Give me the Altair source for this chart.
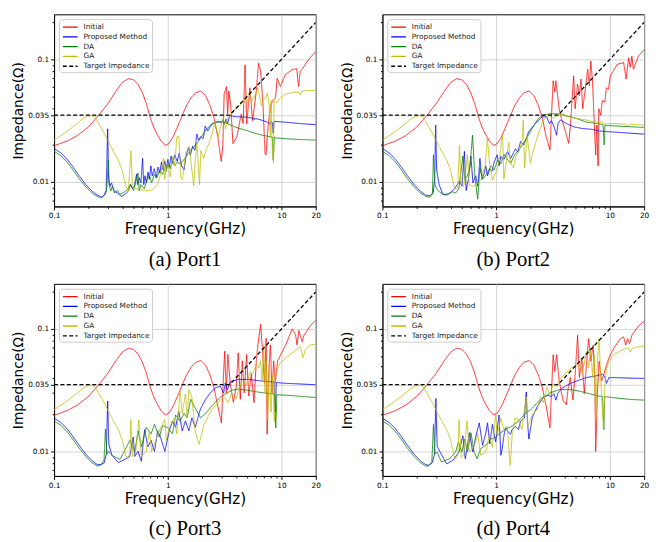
import altair as alt
import pandas as pd

SERIES = ["Initial", "Proposed Method", "DA", "GA", "Target Impedance"]
COLORS = ["#ff0000", "#0000ff", "#008000", "#bfbf00", "#000000"]
DASHES = [[1, 0], [1, 0], [1, 0], [1, 0], [4, 2.5]]

X_MAJOR = [0.1, 1, 10, 20]
X_TICKS = [0.1, 0.2, 0.3, 0.4, 0.5, 0.6, 0.7, 0.8, 0.9, 1, 2, 3, 4, 5, 6, 7, 8, 9, 10, 20]
Y_MAJOR = [0.01, 0.035, 0.1]
Y_TICKS = [0.007, 0.008, 0.009, 0.01, 0.02, 0.03, 0.035, 0.04, 0.05, 0.06, 0.07, 0.08, 0.09, 0.1, 0.2]
CAPTIONS = ["(a) Port1", "(b) Port2", "(c) Port3", "(d) Port4"]

# Target impedance spec: flat, then rising with frequency
TARGET = [(0.1, 0.035), (3.5, 0.035), (20, 0.2)]

# Smooth low-frequency parts (identical in all four ports)
INITIAL_LOW = [(0.1, 0.0197), (0.13, 0.0215), (0.16, 0.0238), (0.2, 0.028), (0.25, 0.0355), (0.3, 0.044),
               (0.35, 0.055), (0.4, 0.065), (0.45, 0.0695), (0.5, 0.068), (0.55, 0.062), (0.6, 0.053),
               (0.65, 0.043), (0.7, 0.0336), (0.75, 0.028), (0.8, 0.0247), (0.87, 0.0216), (0.95, 0.0198),
               (1.02, 0.0205), (1.1, 0.0228), (1.2, 0.0273), (1.3, 0.0326), (1.45, 0.0415), (1.6, 0.0485),
               (1.75, 0.0532), (1.95, 0.0552), (2.15, 0.0505), (2.35, 0.042), (2.55, 0.033), (2.75, 0.0235)]
PROPOSED_LOW = [(0.1, 0.0187), (0.115, 0.0172), (0.13, 0.0153), (0.145, 0.0134), (0.165, 0.0113),
                (0.19, 0.0095), (0.215, 0.0084), (0.24, 0.0078)]
DA_LOW = [(0.1, 0.0178), (0.115, 0.0163), (0.13, 0.0145), (0.145, 0.0127), (0.165, 0.0107),
          (0.19, 0.0091), (0.215, 0.0081), (0.24, 0.0076)]
GA_LOW = [(0.1, 0.0219), (0.12, 0.0245), (0.14, 0.0272), (0.16, 0.030), (0.18, 0.0328), (0.2, 0.0345),
          (0.215, 0.0347), (0.23, 0.0335), (0.25, 0.0292), (0.275, 0.025), (0.3, 0.0213), (0.33, 0.018),
          (0.37, 0.0148), (0.4, 0.0122), (0.425, 0.0093)]

# ---------------- Port 1 ----------------
P1_INITIAL = [(2.95, 0.0147), (3.05, 0.02), (3.13, 0.052), (3.28, 0.060), (3.36, 0.036), (3.44, 0.055),
              (3.57, 0.043), (3.74, 0.0205), (4.05, 0.0232), (4.42, 0.0358), (4.6, 0.03), (4.78, 0.090),
              (4.94, 0.0297), (5.27, 0.0585), (5.57, 0.0316), (6.0, 0.055), (6.28, 0.093), (6.55, 0.080),
              (6.88, 0.0417), (7.16, 0.0171), (7.3, 0.0166), (7.65, 0.0297), (8.0, 0.0405), (8.3, 0.0457),
              (8.86, 0.0486), (9.14, 0.070), (9.77, 0.060), (10.8, 0.075), (12.3, 0.082), (13.6, 0.084),
              (14.1, 0.060), (14.6, 0.080), (15.2, 0.083), (17.2, 0.099), (20, 0.116)]
P1_PROPOSED = [(0.262, 0.0075), (0.275, 0.0078), (0.287, 0.0085), (0.296, 0.0271), (0.302, 0.0105),
               (0.31, 0.0092), (0.32, 0.0098), (0.335, 0.0085), (0.36, 0.0081), (0.39, 0.0076), (0.42, 0.0079),
               (0.45, 0.0084), (0.47, 0.0095), (0.49, 0.0088), (0.51, 0.0093), (0.53, 0.0115), (0.545, 0.0095),
               (0.56, 0.0108), (0.58, 0.0098), (0.6, 0.0156), (0.615, 0.0095), (0.63, 0.0112), (0.65, 0.0098),
               (0.67, 0.012), (0.69, 0.0105), (0.71, 0.0135), (0.73, 0.0112), (0.76, 0.0128), (0.79, 0.0108),
               (0.82, 0.0132), (0.85, 0.0118), (0.88, 0.0145), (0.91, 0.0125), (0.94, 0.0148), (0.97, 0.0128),
               (1.0, 0.0152), (1.03, 0.0132), (1.07, 0.0162), (1.1, 0.0142), (1.15, 0.0165), (1.21, 0.0147),
               (1.26, 0.0172), (1.32, 0.0135), (1.39, 0.0125), (1.45, 0.0165), (1.52, 0.019), (1.58, 0.0165),
               (1.65, 0.0195), (1.73, 0.0181), (1.8, 0.0245), (1.86, 0.0219), (1.95, 0.0235), (2.05, 0.0225),
               (2.13, 0.0285), (2.25, 0.026), (2.4, 0.029), (2.6, 0.0306), (2.8, 0.031), (2.95, 0.0302),
               (3.05, 0.0322), (3.15, 0.0295), (3.25, 0.0325), (3.35, 0.0298), (3.5, 0.0347), (4.0, 0.034),
               (4.9, 0.0337), (5.7, 0.033), (5.78, 0.0322), (5.85, 0.033), (6.8, 0.0317), (7.5, 0.0307),
               (7.8, 0.03), (7.9, 0.0293), (8.0, 0.031), (8.3, 0.0305), (8.45, 0.025), (8.6, 0.031),
               (9.2, 0.031), (10.8, 0.0307), (15, 0.0298), (20, 0.0293)]
P1_DA = [(0.26, 0.0074), (0.28, 0.0078), (0.29, 0.0085), (0.3, 0.0151), (0.305, 0.0095), (0.315, 0.0084),
         (0.325, 0.0092), (0.34, 0.0081), (0.36, 0.0085), (0.38, 0.0079), (0.41, 0.0082), (0.44, 0.0086),
         (0.47, 0.0095), (0.5, 0.0085), (0.53, 0.0105), (0.547, 0.0118), (0.56, 0.0084), (0.58, 0.0095),
         (0.62, 0.0088), (0.66, 0.0105), (0.69, 0.0112), (0.72, 0.0098), (0.76, 0.0115), (0.8, 0.0108),
         (0.85, 0.0125), (0.9, 0.0115), (0.93, 0.0128), (0.97, 0.0122), (1.0, 0.014), (1.05, 0.0128),
         (1.1, 0.0148), (1.15, 0.0135), (1.21, 0.0145), (1.28, 0.014), (1.38, 0.0151), (1.48, 0.0165),
         (1.58, 0.018), (1.7, 0.0195), (1.8, 0.0205), (1.93, 0.0225), (2.06, 0.0247), (2.2, 0.027),
         (2.35, 0.0288), (2.5, 0.03), (2.69, 0.0307), (2.9, 0.031), (3.1, 0.031), (3.5, 0.0293),
         (4.0, 0.0278), (4.88, 0.0263), (5.8, 0.025), (6.8, 0.024), (8.0, 0.0233), (8.3, 0.0232),
         (8.45, 0.0151), (8.55, 0.018), (8.65, 0.0232), (9.0, 0.0228), (10.8, 0.0225), (14, 0.0222), (20, 0.0219)]
P1_GA = [(0.45, 0.0084), (0.474, 0.0179), (0.49, 0.0092), (0.52, 0.0088), (0.56, 0.0087), (0.6, 0.0086),
         (0.65, 0.0085), (0.7, 0.0085), (0.75, 0.0088), (0.8, 0.0093), (0.84, 0.0105), (0.88, 0.0125),
         (0.918, 0.0156), (0.94, 0.0105), (0.97, 0.0135), (1.0, 0.0142), (1.05, 0.011), (1.1, 0.016),
         (1.15, 0.0135), (1.2, 0.0232), (1.25, 0.0235), (1.3, 0.0108), (1.34, 0.0104), (1.45, 0.0175),
         (1.55, 0.0196), (1.6, 0.0145), (1.69, 0.0093), (1.75, 0.016), (1.8, 0.0205), (1.85, 0.0145),
         (1.9, 0.0095), (1.95, 0.018), (2.06, 0.0155), (2.2, 0.019), (2.3, 0.0205), (2.48, 0.0255),
         (2.6, 0.0307), (2.78, 0.0232), (2.9, 0.028), (3.07, 0.0326), (3.23, 0.027), (3.33, 0.033),
         (3.5, 0.034), (3.74, 0.038), (4.0, 0.040), (4.42, 0.043), (4.73, 0.047), (4.89, 0.053),
         (5.05, 0.043), (5.2, 0.047), (5.3, 0.052), (5.5, 0.046), (5.76, 0.049), (6.16, 0.058),
         (6.4, 0.05), (6.68, 0.0417), (6.9, 0.046), (7.3, 0.049), (7.5, 0.053), (7.77, 0.043),
         (8.0, 0.023), (8.1, 0.046), (8.3, 0.0181), (8.5, 0.0142), (8.6, 0.046), (9.0, 0.044),
         (9.5, 0.047), (10.8, 0.052), (13.2, 0.054), (14.3, 0.054), (14.6, 0.051), (15.1, 0.055),
         (17.2, 0.0557), (20, 0.0557)]

# ---------------- Port 2 ----------------
P2_INITIAL = [(2.97, 0.0182), (3.17, 0.0668), (3.28, 0.054), (3.35, 0.0668), (3.58, 0.0395), (3.75, 0.033),
              (4.0, 0.0272), (4.34, 0.0206), (4.5, 0.029), (4.8, 0.0734), (4.95, 0.0395), (5.2, 0.0628),
              (5.4, 0.0506), (5.58, 0.069), (5.77, 0.0395), (6.08, 0.057), (6.37, 0.083), (6.6, 0.061),
              (6.8, 0.097), (7.05, 0.0648), (7.3, 0.029), (7.5, 0.0166), (7.67, 0.029), (7.88, 0.0135),
              (8.0, 0.0395), (8.3, 0.035), (8.58, 0.046), (9.05, 0.0447), (9.3, 0.0585), (9.7, 0.057),
              (10.1, 0.0734), (11.6, 0.091), (13.2, 0.094), (13.9, 0.069), (14.6, 0.103), (15.1, 0.086),
              (15.6, 0.106), (16.1, 0.083), (17.8, 0.106), (20, 0.12)]
P2_PROPOSED = [(0.262, 0.0077), (0.28, 0.0082), (0.288, 0.0105), (0.294, 0.029), (0.3, 0.0125),
               (0.315, 0.0095), (0.34, 0.0079), (0.37, 0.0078), (0.4, 0.0082), (0.43, 0.0088), (0.455, 0.0095),
               (0.476, 0.0101), (0.5, 0.0092), (0.526, 0.0177), (0.545, 0.0085), (0.57, 0.0105), (0.6, 0.0162),
               (0.625, 0.0098), (0.66, 0.0112), (0.69, 0.0092), (0.72, 0.0155), (0.75, 0.0105), (0.78, 0.0115),
               (0.81, 0.0135), (0.84, 0.0112), (0.88, 0.0128), (0.92, 0.0122), (0.96, 0.0145), (1.02, 0.0166),
               (1.06, 0.0135), (1.1, 0.0161), (1.17, 0.0152), (1.26, 0.0177), (1.34, 0.0155), (1.48, 0.0186),
               (1.55, 0.0175), (1.64, 0.0213), (1.75, 0.02), (1.93, 0.0256), (2.21, 0.0299), (2.53, 0.0339),
               (2.79, 0.0339), (2.94, 0.0299), (3.07, 0.0315), (3.24, 0.028), (3.4, 0.024), (3.5, 0.0299),
               (3.68, 0.032), (4.14, 0.0299), (4.89, 0.028), (5.77, 0.0272), (7.04, 0.0268), (8.0, 0.026),
               (10.1, 0.0256), (20, 0.0245)]
P2_DA = [(0.26, 0.0075), (0.275, 0.0079), (0.281, 0.0166), (0.29, 0.0095), (0.3, 0.0088), (0.32, 0.0082),
         (0.35, 0.0079), (0.38, 0.008), (0.41, 0.0083), (0.44, 0.0081), (0.47, 0.0088), (0.51, 0.0162),
         (0.53, 0.0105), (0.56, 0.0112), (0.59, 0.0135), (0.62, 0.024), (0.65, 0.011), (0.688, 0.0072),
         (0.72, 0.013), (0.76, 0.0105), (0.82, 0.0115), (0.9, 0.0135), (0.96, 0.0125), (1.03, 0.015),
         (1.1, 0.014), (1.17, 0.0168), (1.26, 0.0152), (1.34, 0.0142), (1.45, 0.0165), (1.64, 0.019),
         (1.85, 0.0225), (2.1, 0.028), (2.3, 0.032), (2.53, 0.0348), (2.97, 0.036), (3.5, 0.036),
         (4.14, 0.0345), (5.05, 0.033), (6.15, 0.0308), (7.5, 0.030), (8.6, 0.0294), (8.75, 0.028),
         (8.9, 0.020), (9.05, 0.029), (10.1, 0.0287), (20, 0.0278)]
P2_GA = [(0.44, 0.0087), (0.46, 0.0089), (0.476, 0.020), (0.49, 0.0095), (0.52, 0.0092), (0.56, 0.0166),
         (0.58, 0.0095), (0.62, 0.0092), (0.68, 0.0095), (0.74, 0.0105), (0.8, 0.0135), (0.837, 0.0226),
         (0.88, 0.0135), (0.93, 0.0103), (0.97, 0.0115), (1.02, 0.0125), (1.08, 0.0165), (1.14, 0.024),
         (1.17, 0.0105), (1.23, 0.015), (1.29, 0.021), (1.34, 0.0142), (1.42, 0.013), (1.5, 0.0165),
         (1.59, 0.0177), (1.7, 0.0226), (1.73, 0.0318), (1.78, 0.013), (1.87, 0.024), (2.0, 0.0142),
         (2.14, 0.0186), (2.38, 0.0256), (2.6, 0.0318), (2.89, 0.035), (3.17, 0.033), (3.5, 0.035),
         (3.88, 0.036), (4.14, 0.0345), (5.05, 0.033), (6.15, 0.032), (7.04, 0.031), (8.0, 0.0305),
         (8.6, 0.031), (8.7, 0.0296), (9.8, 0.0299), (13.7, 0.0296), (14.6, 0.0288), (15.2, 0.0296),
         (20, 0.029)]

# ---------------- Port 3 ----------------
P3_INITIAL = [(2.96, 0.017), (3.16, 0.0657), (3.27, 0.030), (3.37, 0.0618), (3.55, 0.035), (3.77, 0.0251),
              (4.0, 0.034), (4.16, 0.0637), (4.34, 0.0266), (4.52, 0.0548), (4.7, 0.030), (4.93, 0.0618),
              (5.15, 0.0283), (5.43, 0.043), (5.73, 0.025), (6.0, 0.0548), (6.2, 0.074), (6.55, 0.109),
              (6.75, 0.074), (7.08, 0.036), (7.32, 0.0835), (7.47, 0.0138), (7.67, 0.04), (7.98, 0.074),
              (8.25, 0.030), (8.53, 0.0548), (8.8, 0.036), (9.24, 0.0548), (9.87, 0.0618), (10.9, 0.074),
              (12.4, 0.10), (13.3, 0.0887), (13.7, 0.074), (14.2, 0.097), (15.2, 0.0786), (15.7, 0.088),
              (17.9, 0.106), (20, 0.118)]
P3_PROPOSED = [(0.256, 0.0078), (0.275, 0.008), (0.288, 0.0095), (0.296, 0.0257), (0.303, 0.0115),
               (0.322, 0.0093), (0.368, 0.0081), (0.42, 0.0086), (0.464, 0.0091), (0.496, 0.0131),
               (0.513, 0.0091), (0.548, 0.01), (0.585, 0.0083), (0.625, 0.015), (0.668, 0.0109),
               (0.713, 0.0123), (0.763, 0.01), (0.815, 0.0147), (0.87, 0.0128), (0.942, 0.01), (1.03, 0.0147),
               (1.1, 0.0177), (1.17, 0.0157), (1.25, 0.0212), (1.34, 0.0147), (1.43, 0.0177), (1.53, 0.0147),
               (1.63, 0.0188), (1.74, 0.0157), (1.94, 0.0223), (2.15, 0.0266), (2.37, 0.030), (2.62, 0.033),
               (2.89, 0.034), (3.1, 0.030), (3.2, 0.036), (3.35, 0.032), (3.54, 0.037), (4.16, 0.0387),
               (5.1, 0.0387), (6.2, 0.0378), (8.1, 0.037), (8.6, 0.037), (8.8, 0.021), (9.0, 0.0365),
               (10.5, 0.036), (20, 0.035)]
P3_DA = [(0.256, 0.0077), (0.275, 0.0085), (0.283, 0.0152), (0.292, 0.0095), (0.302, 0.01), (0.333, 0.0091),
         (0.38, 0.0086), (0.434, 0.0109), (0.464, 0.0123), (0.513, 0.01), (0.548, 0.0147), (0.585, 0.0109),
         (0.646, 0.0157), (0.713, 0.0139), (0.763, 0.0166), (0.843, 0.0131), (0.9, 0.0162), (0.994, 0.0157),
         (1.1, 0.0139), (1.17, 0.0198), (1.28, 0.0177), (1.39, 0.0205), (1.48, 0.0188), (1.59, 0.0266),
         (1.74, 0.0225), (1.94, 0.0188), (2.1, 0.02), (2.45, 0.0236), (2.98, 0.0283), (3.65, 0.0315),
         (4.16, 0.0323), (5.1, 0.0315), (6.2, 0.0305), (8.1, 0.0295), (8.7, 0.0295), (8.9, 0.0155),
         (9.1, 0.029), (11.3, 0.0287), (15.7, 0.028), (20, 0.0275)]
P3_GA = [(0.44, 0.0089), (0.464, 0.0095), (0.473, 0.0182), (0.49, 0.0091), (0.52, 0.0095), (0.556, 0.018),
         (0.585, 0.0091), (0.646, 0.01), (0.69, 0.0147), (0.72, 0.01), (0.815, 0.0136), (0.87, 0.0157),
         (0.94, 0.0182), (0.97, 0.0123), (1.03, 0.0157), (1.14, 0.0187), (1.2, 0.0139), (1.28, 0.0313),
         (1.34, 0.0205), (1.43, 0.0295), (1.48, 0.0188), (1.53, 0.032), (1.63, 0.0276), (1.74, 0.0147),
         (1.88, 0.0114), (2.08, 0.0165), (2.45, 0.0222), (2.79, 0.025), (3.1, 0.0283), (3.4, 0.025),
         (3.65, 0.030), (4.0, 0.027), (4.47, 0.038), (4.93, 0.035), (5.3, 0.0445), (5.6, 0.043),
         (6.0, 0.0517), (6.3, 0.048), (6.55, 0.0548), (6.75, 0.038), (6.98, 0.074), (7.15, 0.03),
         (7.3, 0.0548), (7.57, 0.018), (7.8, 0.05), (8.1, 0.021), (8.35, 0.042), (8.64, 0.0175),
         (8.8, 0.040), (9.1, 0.045), (9.55, 0.0517), (10.9, 0.058), (12.9, 0.0657), (14.7, 0.0718),
         (15.4, 0.058), (16.2, 0.068), (17.9, 0.074), (20, 0.075)]

# ---------------- Port 4 ----------------
P4_INITIAL = [(2.97, 0.0156), (3.17, 0.0614), (3.28, 0.045), (3.4, 0.0614), (3.58, 0.0377), (3.87, 0.0262),
              (4.14, 0.024), (4.3, 0.033), (4.49, 0.040), (4.73, 0.0262), (4.95, 0.042), (5.2, 0.0885),
              (5.4, 0.040), (5.66, 0.0578), (5.96, 0.0296), (6.16, 0.045), (6.5, 0.0833), (6.8, 0.0544),
              (7.13, 0.0738), (7.37, 0.040), (7.5, 0.010), (7.77, 0.0296), (8.03, 0.0544), (8.47, 0.0377),
              (8.87, 0.0427), (9.18, 0.048), (9.8, 0.0578), (10.8, 0.0694), (12.4, 0.0833), (13.2, 0.086),
              (13.8, 0.0738), (14.3, 0.083), (14.9, 0.076), (15.6, 0.0885), (17.8, 0.105), (20, 0.116)]
P4_PROPOSED = [(0.255, 0.0077), (0.275, 0.0081), (0.287, 0.0095), (0.295, 0.027), (0.303, 0.011),
               (0.321, 0.0099), (0.367, 0.0079), (0.419, 0.0085), (0.472, 0.0099), (0.51, 0.0134),
               (0.535, 0.0087), (0.582, 0.0142), (0.623, 0.0099), (0.665, 0.0134), (0.71, 0.0171),
               (0.76, 0.0112), (0.812, 0.0142), (0.84, 0.0171), (0.88, 0.0115), (0.927, 0.0166), (0.99, 0.0119),
               (1.06, 0.0198), (1.1, 0.0093), (1.13, 0.0105), (1.17, 0.0134), (1.21, 0.0156), (1.29, 0.0142),
               (1.34, 0.0138), (1.38, 0.0151), (1.48, 0.016), (1.57, 0.0151), (1.64, 0.0176), (1.77, 0.0187),
               (1.84, 0.0305), (1.88, 0.018), (1.94, 0.0126), (2.08, 0.019), (2.3, 0.0232), (2.6, 0.0278),
               (2.87, 0.0287), (3.05, 0.028), (3.22, 0.0296), (3.35, 0.0262), (3.5, 0.030), (3.75, 0.0324),
               (4.14, 0.0344), (4.73, 0.0366), (5.4, 0.0382), (6.16, 0.040), (7.5, 0.0413), (8.6, 0.0427),
               (9.0, 0.041), (9.35, 0.036), (9.8, 0.040), (10.8, 0.040), (15.6, 0.0396), (20, 0.0394)]
P4_DA = [(0.255, 0.0076), (0.272, 0.0082), (0.281, 0.0166), (0.29, 0.0095), (0.302, 0.0099), (0.33, 0.0082),
         (0.39, 0.0087), (0.44, 0.0099), (0.466, 0.0119), (0.5, 0.0099), (0.53, 0.0126), (0.56, 0.0099),
         (0.6, 0.0142), (0.64, 0.0099), (0.68, 0.0087), (0.73, 0.0105), (0.81, 0.0112), (0.9, 0.0126),
         (0.99, 0.013), (1.1, 0.0142), (1.21, 0.0151), (1.38, 0.0161), (1.57, 0.0176), (1.8, 0.0205),
         (2.0, 0.0218), (2.44, 0.0262), (2.97, 0.030), (3.63, 0.032), (4.43, 0.032), (5.4, 0.031),
         (6.59, 0.0296), (8.03, 0.0282), (8.6, 0.0282), (8.85, 0.0151), (9.0, 0.028), (11.2, 0.0273),
         (15.6, 0.0265), (20, 0.0262)]
P4_GA = [(0.44, 0.0087), (0.46, 0.0092), (0.472, 0.0182), (0.494, 0.0089), (0.52, 0.0095), (0.553, 0.0178),
         (0.582, 0.0099), (0.64, 0.0109), (0.69, 0.0138), (0.73, 0.0093), (0.812, 0.0099), (0.867, 0.0134),
         (0.927, 0.0108), (0.99, 0.0205), (1.02, 0.0134), (1.1, 0.0187), (1.17, 0.0151), (1.25, 0.0161),
         (1.33, 0.0077), (1.38, 0.0134), (1.47, 0.0187), (1.57, 0.0182), (1.68, 0.0151), (1.8, 0.024),
         (1.84, 0.0278), (1.9, 0.016), (2.08, 0.02), (2.3, 0.022), (2.44, 0.028), (2.6, 0.025),
         (2.79, 0.0334), (2.97, 0.029), (3.17, 0.0355), (3.4, 0.034), (3.75, 0.040), (4.14, 0.0439),
         (4.57, 0.048), (5.0, 0.0496), (5.4, 0.0544), (5.7, 0.043), (6.24, 0.0653), (6.5, 0.048),
         (6.8, 0.0694), (7.05, 0.04), (7.3, 0.062), (7.5, 0.0182), (7.77, 0.0544), (8.03, 0.0833),
         (8.3, 0.04), (8.6, 0.022), (8.76, 0.0156), (9.0, 0.033), (9.3, 0.045), (9.8, 0.0544),
         (10.8, 0.0614), (12.8, 0.0673), (14.6, 0.070), (15.1, 0.0645), (15.6, 0.069), (17.8, 0.0715),
         (20, 0.0724)]

PORTS = [
    (P1_INITIAL, P1_PROPOSED, P1_DA, P1_GA),
    (P2_INITIAL, P2_PROPOSED, P2_DA, P2_GA),
    (P3_INITIAL, P3_PROPOSED, P3_DA, P3_GA),
    (P4_INITIAL, P4_PROPOSED, P4_DA, P4_GA),
]


def port_frame(init_hi, prop, da, ga):
    parts = [
        ("Initial", INITIAL_LOW + init_hi),
        ("Proposed Method", PROPOSED_LOW + prop),
        ("DA", DA_LOW + da),
        ("GA", GA_LOW + ga),
        ("Target Impedance", TARGET),
    ]
    rows = []
    for name, pts in parts:
        for i, (f, z) in enumerate(pts):
            rows.append({"series": name, "f": f, "z": z, "i": i})
    return pd.DataFrame(rows)


def major_test(vals):
    return "indexof([" + ",".join(str(v) for v in vals) + "], datum.value) >= 0"


# legend line symbol: 15px long, drawn inside a 10px layout box
LEGEND = alt.Legend(
    title=None, orient="top-left", offset=5, fillColor="white", strokeColor="#cccccc",
    cornerRadius=3, padding=2, labelFontSize=7.5, labelFont="DejaVu Sans", labelColor="#222222",
    symbolType="M-0.8,0H2.2", symbolSize=100, symbolStrokeWidth=1.3, rowPadding=-0.3, labelOffset=11,
)


def panel(df, caption):
    xt = major_test(X_MAJOR)
    yt = major_test(Y_MAJOR)
    x = alt.X(
        "f:Q",
        scale=alt.Scale(type="log", domain=[0.1, 20], nice=False),
        axis=alt.Axis(
            title="Frequency(GHz)", values=X_TICKS, format="~g",
            labelExpr=f"{xt} ? datum.label : ''", labelOverlap=False, labelFlush=False,
            tickSize={"condition": {"test": xt, "value": 3.5}, "value": 2},
            gridOpacity={"condition": {"test": xt, "value": 1}, "value": 0},
            titleFontSize=15.5, titlePadding=3,
        ),
    )
    y = alt.Y(
        "z:Q",
        scale=alt.Scale(type="log", domain=[0.0063, 0.233], nice=False),
        axis=alt.Axis(
            title="Impedance(Ω)", values=Y_TICKS, format="~g",
            labelExpr=f"{yt} ? datum.label : ''", labelOverlap=False, labelFlush=False,
            tickSize={"condition": {"test": yt, "value": 3.5}, "value": 2},
            gridOpacity={"condition": {"test": yt, "value": 1}, "value": 0},
            titleFontSize=14, titlePadding=2,
        ),
    )
    return alt.Chart(df).mark_line(clip=True).encode(
        x=x,
        y=y,
        color=alt.Color("series:N", scale=alt.Scale(domain=SERIES, range=COLORS), legend=LEGEND),
        strokeDash=alt.StrokeDash("series:N", scale=alt.Scale(domain=SERIES, range=DASHES), legend=LEGEND),
        opacity=alt.condition(alt.datum.series == "Target Impedance", alt.value(1), alt.value(0.85)),
        strokeWidth=alt.condition(alt.datum.series == "Target Impedance", alt.value(1.3), alt.value(1.0)),
        order=alt.Order("i:Q"),
    ).properties(
        width=267, height=196,
        title=alt.TitleParams(caption, orient="bottom", font="Liberation Serif", fontSize=21,
                              fontWeight="normal", color="black", offset=12),
    )


charts = [panel(port_frame(*p), c) for p, c in zip(PORTS, CAPTIONS)]


def indep(ch):
    return ch.resolve_scale(color="independent", strokeDash="independent").resolve_legend(
        color="independent", strokeDash="independent")


chart = indep(alt.vconcat(
    indep(alt.hconcat(charts[0], charts[1], spacing=18)),
    indep(alt.hconcat(charts[2], charts[3], spacing=18)),
    spacing=13,
)).properties(
    padding={"left": 3, "top": 0, "right": 0, "bottom": 0}
).configure_view(
    stroke="black", strokeWidth=1
).configure_axis(
    domainColor="black", domainWidth=1, tickColor="black", labelColor="black",
    labelFont="DejaVu Sans", labelFontSize=7.5, labelPadding=2,
    titleFont="DejaVu Sans", titleFontWeight="normal", titleColor="black",
    gridColor="#c8c8c8", gridWidth=0.8,
).configure_legend(
    labelLimit=200
)

chart.save("out.html", embed_options={"renderer": "svg", "actions": False})
